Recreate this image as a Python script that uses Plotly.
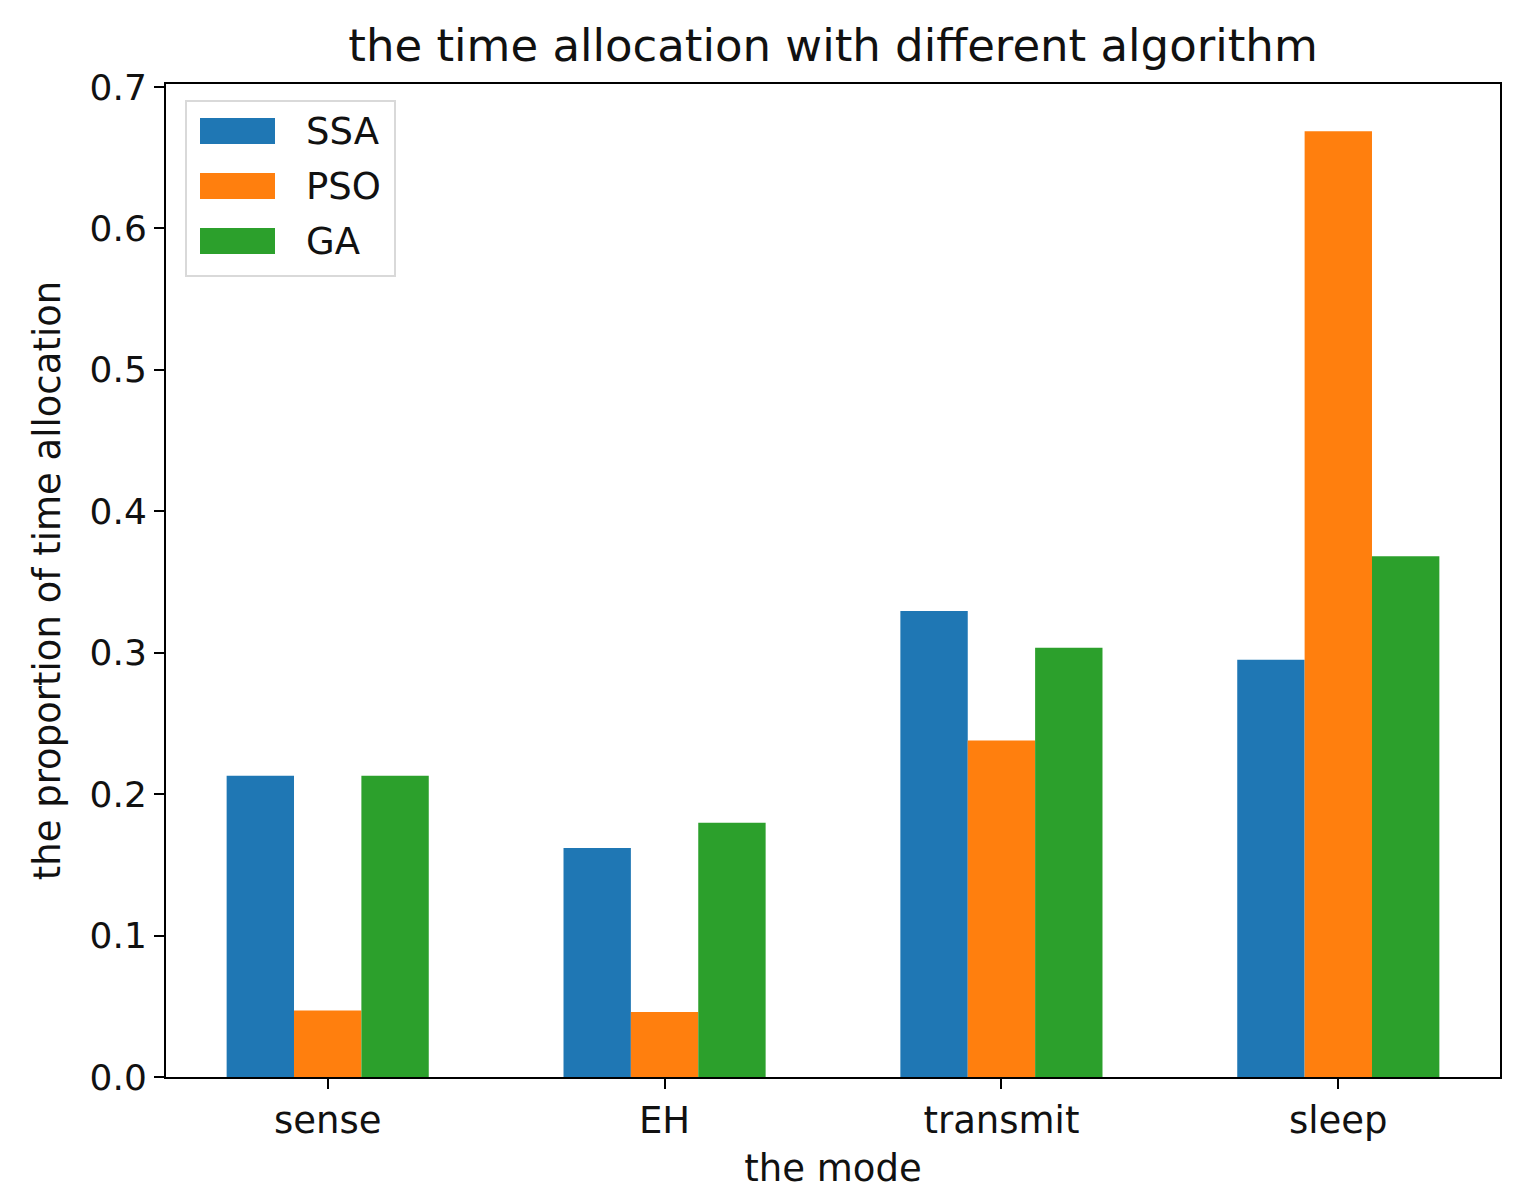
import plotly.graph_objects as go

modes = ["sense", "EH", "transmit", "sleep"]
ssa = [0.213, 0.162, 0.3295, 0.295]
pso = [0.047, 0.046, 0.238, 0.6687]
ga = [0.213, 0.1797, 0.3036, 0.3683]
series_names = ["SSA", "PSO", "GA"]
colors = ["#1f77b4", "#ff7f0e", "#2ca02c"]

FONT = "DejaVu Sans"
fig = go.Figure()
for name, vals, c in zip(series_names, [ssa, pso, ga], colors):
    fig.add_trace(go.Bar(x=modes, y=vals, name=name, marker=dict(color=c, line=dict(width=0)),
                         showlegend=False))

ymax = max(max(ssa), max(pso), max(ga)) * 1.05

fig.update_layout(
    width=1536, height=1200,
    margin=dict(l=166, r=36, t=84, b=123),
    paper_bgcolor="white", plot_bgcolor="white",
    barmode="group", bargap=0.4, bargroupgap=0,
    font=dict(family=FONT, size=37, color="#111111"),
    title=dict(text="the time allocation with different algorithm", x=0.5, xref="paper",
               y=1 - 45 / 1200, yanchor="middle", font=dict(size=45, family=FONT)),
)
fig.update_xaxes(
    range=[-0.48, 3.48], showline=True, linecolor="black", linewidth=2, mirror=True,
    ticks="outside", ticklen=10, tickwidth=2, tickcolor="black",
    showgrid=False, zeroline=False,
    title=dict(text="the mode", font=dict(size=37), standoff=14),
    tickfont=dict(size=37),
)
fig.update_yaxes(
    range=[0, ymax], showline=True, linecolor="black", linewidth=2, mirror=True,
    ticks="outside", ticklen=10, tickwidth=2, tickcolor="black",
    showgrid=False, zeroline=False, tickvals=[0, 0.1, 0.2, 0.3, 0.4, 0.5, 0.6, 0.7],
    tickformat=".1f",
    title=dict(text="the proportion of time allocation", font=dict(size=37), standoff=18),
    tickfont=dict(size=36),
)

# custom legend (matplotlib style)
pw = 1536 - 166 - 36
ph = 1200 - 84 - 123
def px2x(px):
    return (px - 166) / pw
def py2y(py):
    return (1200 - 123 - py) / ph

fig.add_shape(type="rect", xref="paper", yref="paper",
              x0=px2x(186), x1=px2x(395), y0=py2y(276), y1=py2y(101),
              line=dict(color="#d9d9d9", width=2), fillcolor="rgba(255,255,255,0.8)", layer="above")
for i, (name, c) in enumerate(zip(series_names, colors)):
    cy = 131 + i * 55
    fig.add_shape(type="rect", xref="paper", yref="paper",
                  x0=px2x(200), x1=px2x(275), y0=py2y(cy + 13), y1=py2y(cy - 13),
                  line=dict(width=0), fillcolor=c, layer="above")
    fig.add_annotation(xref="paper", yref="paper", x=px2x(304), y=py2y(cy),
                       text=name, showarrow=False, xanchor="left", yanchor="middle",
                       font=dict(size=37, family=FONT, color="#111111"))

fig.write_html("out.html")
